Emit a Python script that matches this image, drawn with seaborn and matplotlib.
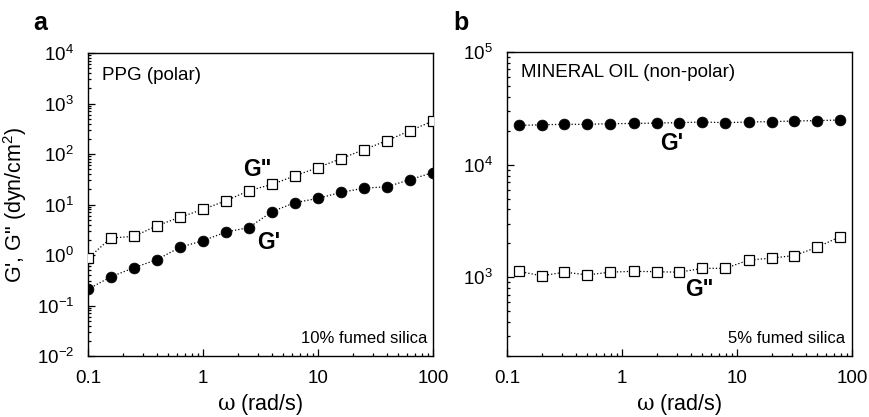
import numpy as np
import pandas as pd
import matplotlib
matplotlib.use("Agg")
import matplotlib.pyplot as plt
import matplotlib.ticker as mticker
import seaborn as sns

# ---------------- data ----------------
w_a = [0.1, 0.158, 0.251, 0.398, 0.631, 1.0, 1.585, 2.51, 3.98, 6.31,
       10.0, 15.85, 25.1, 39.8, 63.1, 100.0]
Gp_a = [0.21, 0.37, 0.56, 0.81, 1.42, 1.92, 2.85, 3.5, 7.2, 10.9,
        13.2, 17.4, 21.0, 22.5, 31.0, 43.0]
Gpp_a = [0.86, 2.17, 2.34, 3.8, 5.6, 8.0, 11.9, 18.8, 25.0, 37.0,
         54.0, 81.0, 122.0, 184.0, 290.0, 450.0]

w_b = [0.126, 0.2, 0.316, 0.5, 0.79, 1.26, 2.0, 3.16, 5.0, 7.9,
       12.6, 20.0, 31.6, 50.0, 79.0]
Gp_b = [22300, 22600, 22800, 22800, 23100, 23200, 23400, 23600, 23900, 23600,
        23900, 24100, 24400, 24600, 24900]
Gpp_b = [1130, 1030, 1110, 1050, 1110, 1130, 1120, 1110, 1200, 1200,
         1420, 1480, 1560, 1850, 2300]

x_ticks = [0.1, 1, 10, 100]
x_tick_labels = ["0.1", "1", "10", "100"]
panel_letters = ["a", "b"]
panel_titles = ["PPG (polar)", "MINERAL OIL (non-polar)"]
panel_notes = ["10% fumed silica", "5% fumed silica"]
xlabel = r"$\mathsf{\omega}$ (rad/s)"
ylabel = "G', G\" (dyn/cm$^{2}$)"

# ---------------- style ----------------
sns.set_style("ticks")
plt.rcParams["font.family"] = ["Liberation Sans", "DejaVu Sans"]
plt.rcParams["mathtext.fontset"] = "custom"
plt.rcParams["mathtext.rm"] = "Liberation Sans"
plt.rcParams["mathtext.it"] = "Liberation Sans:italic"
plt.rcParams["mathtext.bf"] = "Liberation Sans:bold"
plt.rcParams["mathtext.sf"] = "DejaVu Serif"
for k in ["text.color", "axes.labelcolor", "xtick.color", "ytick.color",
          "axes.edgecolor"]:
    plt.rcParams[k] = "black"

fig = plt.figure(figsize=(8.7, 4.17), dpi=100)
W, H = 870, 417
ax_a = fig.add_axes([88 / W, 1 - 356 / H, 345 / W, 303 / H])
ax_b = fig.add_axes([507 / W, 1 - 356 / H, 345 / W, 304 / H])

def draw(ax, w, gp, gpp):
    df = pd.DataFrame({"w": w, "Gp": gp, "Gpp": gpp})
    sns.lineplot(data=df, x="w", y="Gpp", ax=ax, sort=False, errorbar=None,
                 color="black", linestyle=":", linewidth=0.9,
                 marker="s", markersize=6.8, markerfacecolor="white",
                 markeredgecolor="black", markeredgewidth=0.9, zorder=3)
    sns.lineplot(data=df, x="w", y="Gp", ax=ax, sort=False, errorbar=None,
                 color="black", linestyle=":", linewidth=0.9,
                 marker="o", markersize=7.8, markerfacecolor="black",
                 markeredgecolor="black", markeredgewidth=0.5, zorder=3)

draw(ax_a, w_a, Gp_a, Gpp_a)
draw(ax_b, w_b, Gp_b, Gpp_b)

for ax in (ax_a, ax_b):
    ax.set_xscale("log")
    ax.set_yscale("log")
    ax.set_xlim(0.1, 100)
    ax.xaxis.set_major_locator(mticker.FixedLocator(x_ticks))
    ax.xaxis.set_major_formatter(mticker.FixedFormatter(x_tick_labels))
    ax.xaxis.set_minor_locator(mticker.LogLocator(base=10, subs=np.arange(2, 10), numticks=100))
    ax.xaxis.set_minor_formatter(mticker.NullFormatter())
    ax.yaxis.set_major_locator(mticker.LogLocator(base=10, numticks=100))
    ax.yaxis.set_major_formatter(mticker.LogFormatterMathtext())
    ax.yaxis.set_minor_locator(mticker.LogLocator(base=10, subs=np.arange(2, 10), numticks=100))
    ax.yaxis.set_minor_formatter(mticker.NullFormatter())
    ax.tick_params(which="both", direction="in", top=False, right=False,
                   width=0.9, color="black", labelcolor="black")
    ax.tick_params(which="major", length=5, labelsize=13.5, pad=10)
    ax.tick_params(which="minor", length=2.5)
    for s in ax.spines.values():
        s.set_linewidth(1.0)
        s.set_color("black")
    ax.set_xlabel(xlabel, fontsize=15.5)
    ax.xaxis.set_label_coords(0.5, -0.12)

ax_a.set_ylim(1e-2, 1e4)
ax_b.set_ylim(200, 1e5)
ax_b.set_ylabel("")
ax_a.set_ylabel(ylabel, fontsize=15.5)
ax_a.yaxis.set_label_coords(-0.17, 0.5)

# in-panel texts
ax_a.text(0.041, 0.927, panel_titles[0], transform=ax_a.transAxes, fontsize=13.5,
          ha="left", va="center")
ax_b.text(0.041, 0.934, panel_titles[1], transform=ax_b.transAxes, fontsize=13.5,
          ha="left", va="center")
ax_a.text(0.983, 0.059, panel_notes[0], transform=ax_a.transAxes, fontsize=12,
          ha="right", va="center")
ax_b.text(0.98, 0.059, panel_notes[1], transform=ax_b.transAxes, fontsize=12,
          ha="right", va="center")

# series labels
ax_a.text(0.449, 0.614, 'G"', transform=ax_a.transAxes, fontsize=16.5,
          fontweight="bold", ha="left", va="center")
ax_a.text(0.49, 0.376, "G'", transform=ax_a.transAxes, fontsize=16.5,
          fontweight="bold", ha="left", va="center")
ax_b.text(0.443, 0.70, "G'", transform=ax_b.transAxes, fontsize=16.5,
          fontweight="bold", ha="left", va="center")
ax_b.text(0.516, 0.22, 'G"', transform=ax_b.transAxes, fontsize=16.5,
          fontweight="bold", ha="left", va="center")

# panel letters
fig.text(33 / W, 1 - 30 / H, panel_letters[0], fontsize=18, fontweight="bold",
         ha="left", va="baseline")
fig.text(453 / W, 1 - 30 / H, panel_letters[1], fontsize=18, fontweight="bold",
         ha="left", va="baseline")

fig.savefig("out.png", dpi=100)
